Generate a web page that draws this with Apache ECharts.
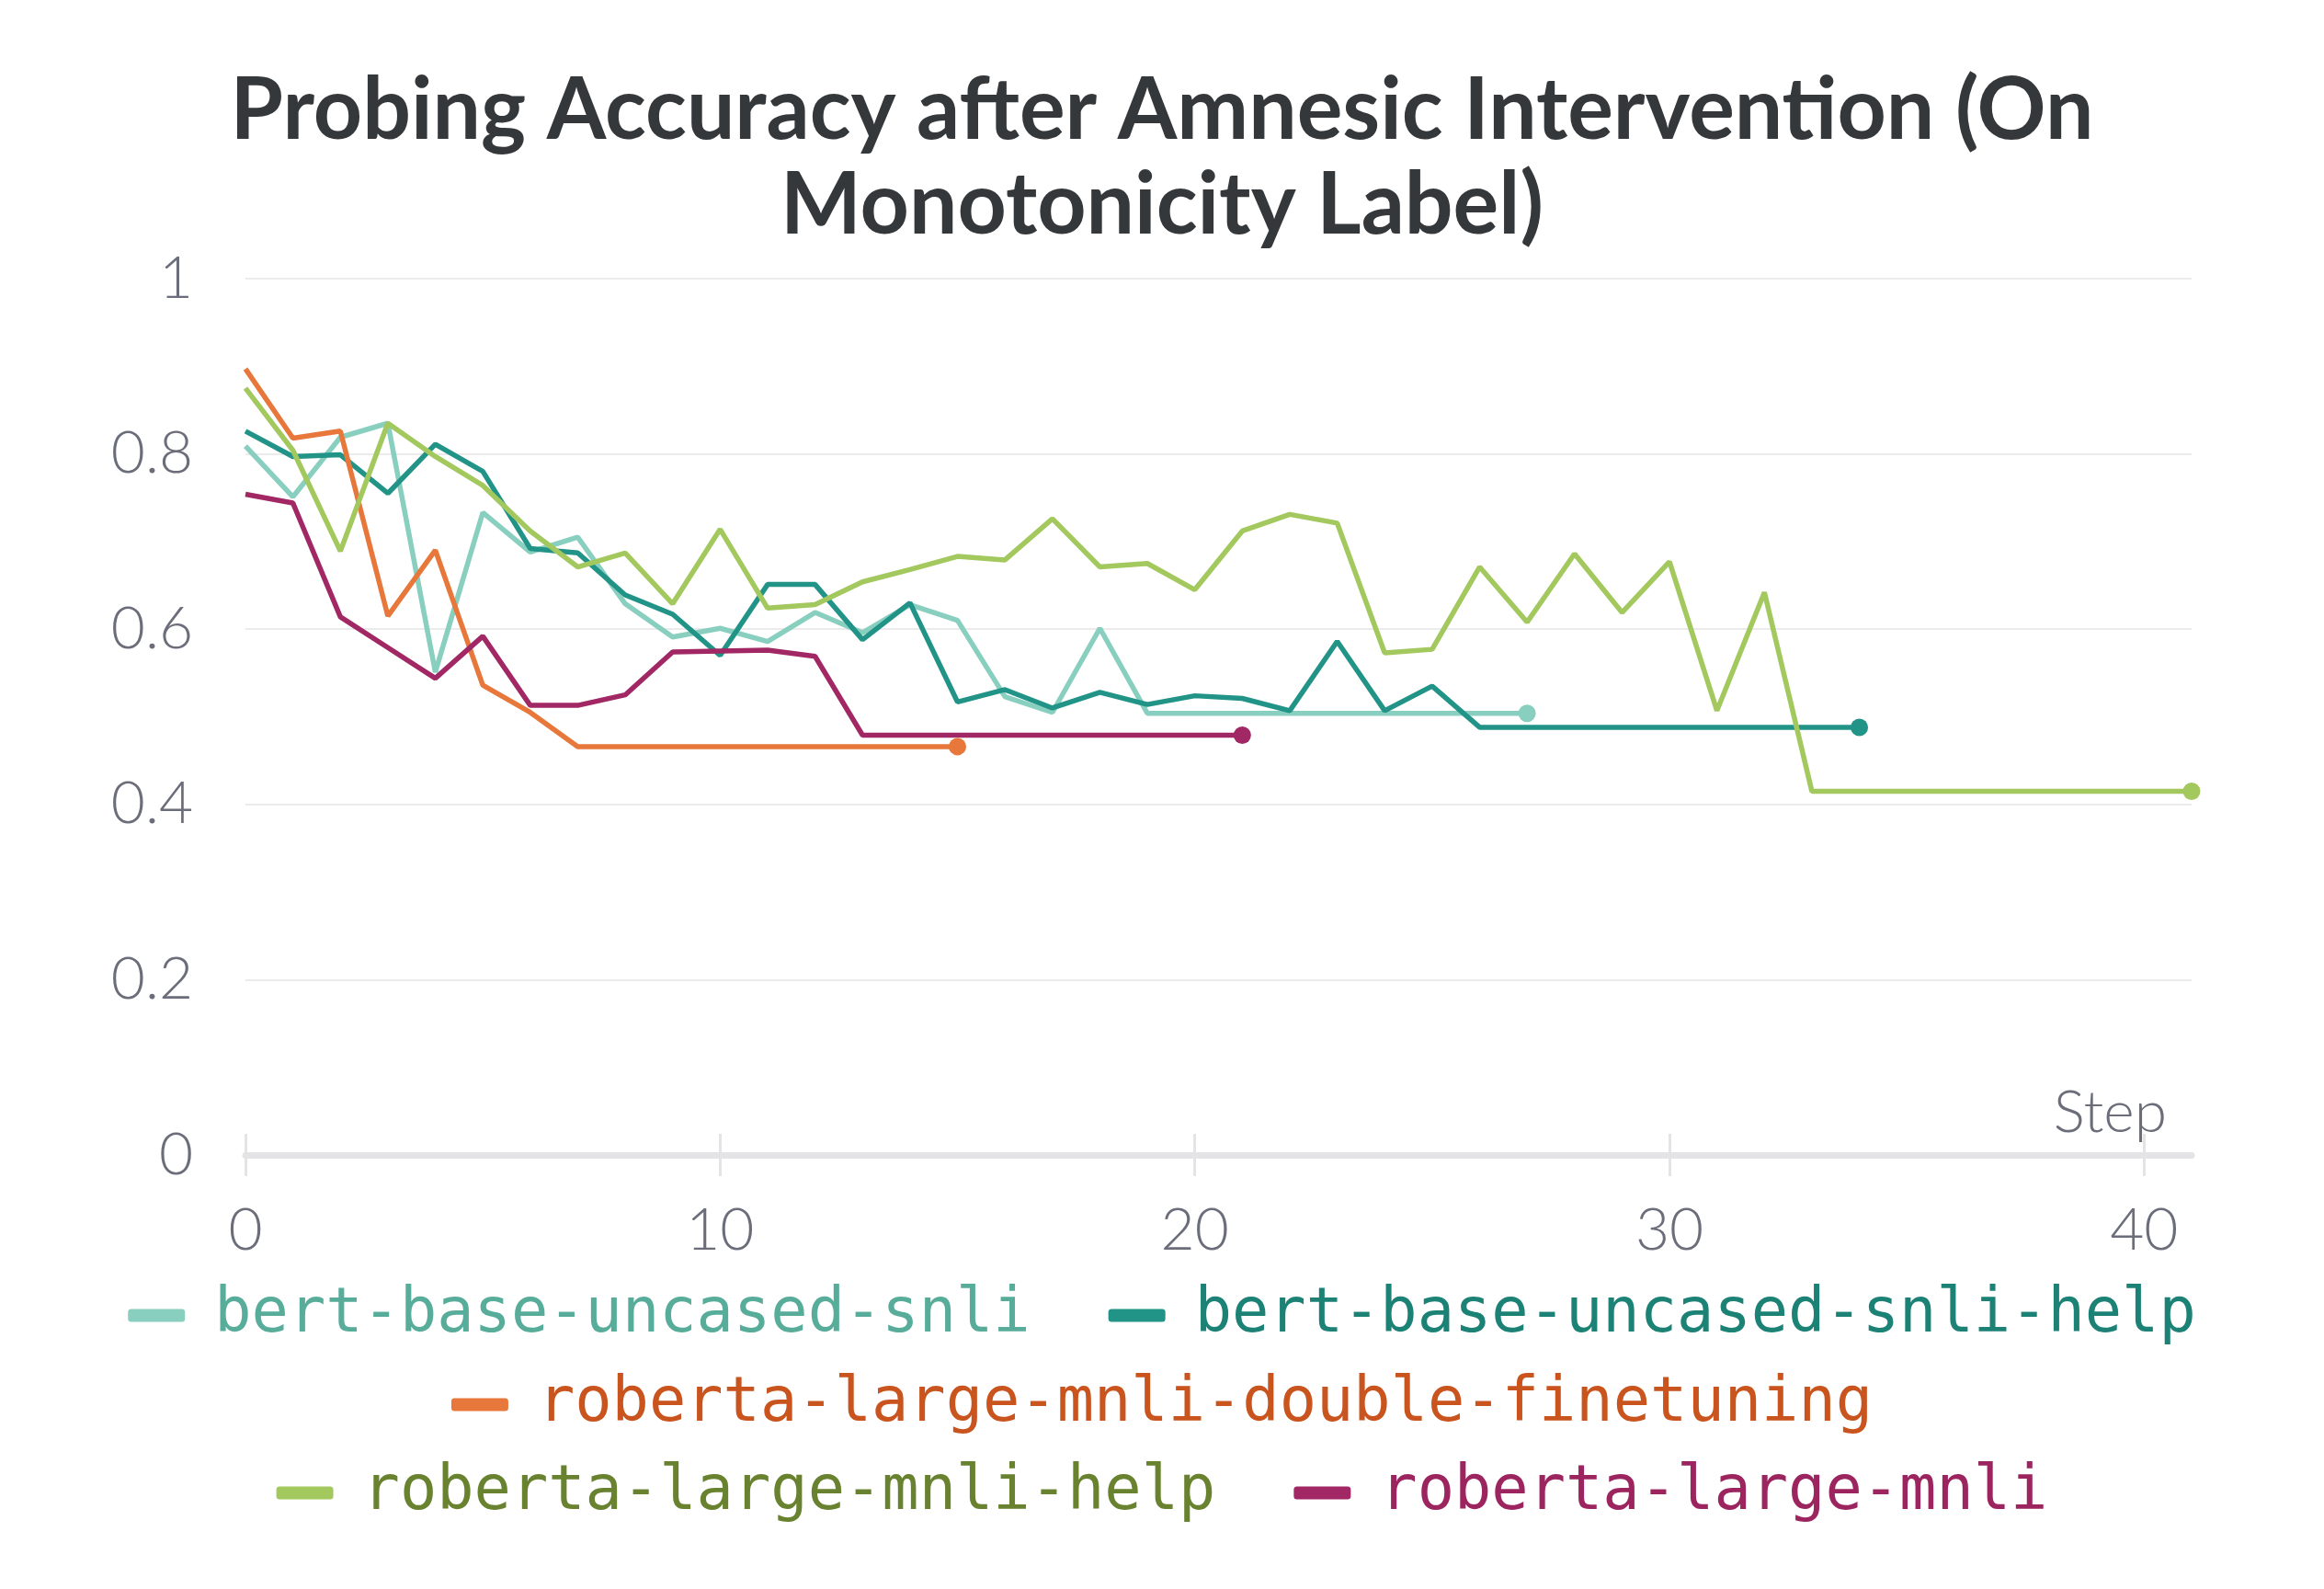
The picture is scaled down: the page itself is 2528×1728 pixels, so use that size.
<!DOCTYPE html>
<html>
<head>
<meta charset="utf-8">
<script src="https://cdn.jsdelivr.net/npm/echarts@6/dist/echarts.min.js"></script>
<style>html,body{margin:0;padding:0;background:#fff;}#c{width:2528px;height:1728px;}</style>
</head>
<body>
<div id="c"></div>
<script>
const titleText = 'Probing Accuracy after Amnesic Intervention (On\nMonotonicity Label)';
const seriesNames = ['bert-base-uncased-snli','bert-base-uncased-snli-help','roberta-large-mnli-double-finetuning','roberta-large-mnli-help','roberta-large-mnli'];
const xTicks = [0,10,20,30,40];
const yTicks = [0,0.2,0.4,0.6,0.8,1];

const bertSnli = [0.809,0.751,0.819,0.835,0.551,0.733,0.688,0.705,0.629,0.591,0.601,0.586,0.619,0.596,0.628,0.610,0.523,0.505,0.601,0.504,0.504,0.504,0.504,0.504,0.504,0.504,0.504,0.504];
const bertSnliHelp = [0.826,0.797,0.799,0.755,0.811,0.780,0.692,0.687,0.639,0.617,0.570,0.651,0.651,0.588,0.630,0.517,0.531,0.510,0.528,0.514,0.524,0.521,0.507,0.586,0.507,0.535,0.488,0.488,0.488,0.488,0.488,0.488,0.488,0.488,0.488];
const robertaDouble = [0.897,0.818,0.826,0.615,0.690,0.536,0.505,0.466,0.466,0.466,0.466,0.466,0.466,0.466,0.466,0.466];
const robertaHelp = [0.875,0.804,0.689,0.835,0.797,0.764,0.712,0.671,0.687,0.629,0.714,0.624,0.628,0.654,0.668,0.683,0.679,0.726,0.671,0.675,0.645,0.712,0.731,0.721,0.573,0.577,0.671,0.608,0.686,0.619,0.677,0.507,0.642,0.415,0.415,0.415,0.415,0.415,0.415,0.415,0.415,0.415];
const roberta = [0.754,0.744,0.614,0.579,0.544,0.592,0.513,0.513,0.525,0.574,0.575,0.576,0.569,0.479,0.479,0.479,0.479,0.479,0.479,0.479,0.479,0.479];

const lineColors = ['#88cfbf','#229487','#e7773a','#a2c85e','#a12864'];
const textColors = ['#58ad9a','#1d8276','#c9541e','#68822f','#9c2560'];
const allValues = [bertSnli, bertSnliHelp, robertaDouble, robertaHelp, roberta];

const chart = echarts.init(document.getElementById('c'), null, {renderer:'canvas'});

const series = allValues.map((vals, k) => {
  const last = vals.length - 1;
  return {
    name: seriesNames[k],
    type: 'line',
    data: vals.map((v, i) => [i, v]),
    symbol: 'circle',
    showSymbol: true,
    showAllSymbol: true,
    symbolSize: (val, p) => p.dataIndex === last ? 19 : 0,
    lineStyle: {width: 5.5, color: lineColors[k]},
    itemStyle: {color: lineColors[k]},
    emphasis: {disabled: true},
    z: 2 + k
  };
});

function legendRow(idx, top) {
  return {
    top: top,
    left: 'center',
    orient: 'horizontal',
    itemWidth: 62,
    itemHeight: 14,
    itemGap: 85,
    icon: 'roundRect',
    selectedMode: false,
    textStyle: {fontFamily: 'DejaVu Sans Mono', fontSize: 67, padding: [0,0,0,27]},
    data: idx.map(i => ({name: seriesNames[i], itemStyle:{color: lineColors[i]}, textStyle: {color: textColors[i], fontFamily: 'DejaVu Sans Mono', fontSize: 67, padding:[0,0,0,27]}}))
  };
}

chart.setOption({
  animation: false,
  backgroundColor: '#ffffff',
  title: {
    text: titleText,
    left: 'center',
    top: 64,
    textStyle: {fontFamily: 'Lato', fontWeight: 'bold', fontSize: 93, lineHeight: 103, color: '#35383b'}
  },
  grid: {left: 267, right: 144, top: 303, bottom: 472, containLabel: false},
  legend: [legendRow([0,1], 1392), legendRow([2], 1489), legendRow([3,4], 1585)],
  xAxis: [{
    type: 'value', min: 0, max: 41, interval: 10,
    name: 'Step', nameLocation: 'end', nameGap: -27,
    nameTextStyle: {fontFamily: 'Lato', fontWeight: 300, fontSize: 64, color: '#6b6e7a', align: 'right', verticalAlign: 'bottom', padding: [0,0,14,0]},
    axisLine: {show: true, lineStyle: {color: '#e4e4e6', width: 7}},
    axisTick: {show: true, customValues: xTicks, length: 23, lineStyle: {color: '#e4e4e6', width: 3}},
    axisLabel: {customValues: xTicks, margin: 50, fontFamily: 'Lato', fontWeight: 300, fontSize: 64, color: '#6b6e7a'},
    splitLine: {show: false}
  }, {
    type: 'value', min: 0, max: 41, position: 'bottom',
    axisLine: {show: false},
    axisTick: {show: true, inside: true, customValues: xTicks, length: 23, lineStyle: {color: '#e4e4e6', width: 3}},
    axisLabel: {show: false},
    splitLine: {show: false}
  }],
  yAxis: {
    type: 'value', min: 0, max: 1, interval: 0.2,
    axisLine: {show: false}, axisTick: {show: false},
    axisLabel: {margin: 57, fontFamily: 'Lato', fontWeight: 300, fontSize: 64, color: '#6b6e7a'},
    splitLine: {show: true, lineStyle: {color: '#ebebeb', width: 2}}
  },
  series: series
});
</script>
</body>
</html>
